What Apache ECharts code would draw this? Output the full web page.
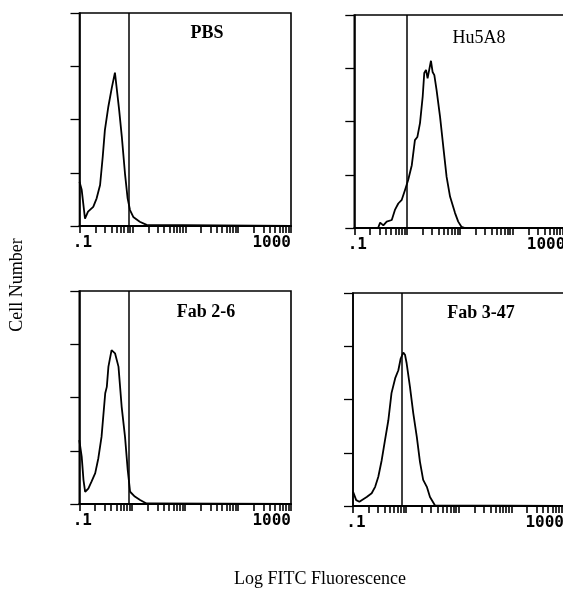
<!DOCTYPE html>
<html>
<head>
<meta charset="utf-8">
<script src="https://cdn.jsdelivr.net/npm/echarts@6/dist/echarts.min.js"></script>
<style>
html,body{margin:0;padding:0;background:#fff;}
#chart{width:563px;height:591px;}
</style>
</head>
<body>
<div id="chart"></div>
<script>
// ---- data ----
const panelTitles = ['PBS', 'Hu5A8', 'Fab 2-6', 'Fab 3-47'];
const xTickLabelValues = [0.1, 1000];
const xTickLabelTexts = ['.1', '1000'];
const xDecades = [0.1, 1, 10, 100];
const xMultipliers = [1, 2, 3, 4, 5, 6, 7, 8, 9];
const yMin = 0, yMax = 4, yInterval = 1;
const gateValues = [0.86, 0.98, 0.87, 0.85];

const pbsX = [0.1, 0.110, 0.127, 0.145, 0.182, 0.211, 0.245, 0.275, 0.302, 0.351, 0.407, 0.468, 0.501, 0.562, 0.631, 0.724, 0.813, 0.902, 1.04, 1.38, 1.86, 1000];
const pbsY = [0.83, 0.68, 0.14, 0.27, 0.36, 0.52, 0.77, 1.30, 1.80, 2.24, 2.59, 2.88, 2.62, 2.18, 1.68, 0.99, 0.52, 0.30, 0.17, 0.08, 0.02, 0];

const hu5a8X = [0.1, 0.282, 0.309, 0.355, 0.411, 0.513, 0.589, 0.682, 0.794, 0.912, 1.05, 1.23, 1.41, 1.57, 1.76, 1.98, 2.12, 2.29, 2.45, 2.63, 2.84, 3.05, 3.29, 3.63, 4.22, 4.86, 5.62, 6.53, 8.13, 9.33, 10.8, 12.6, 1000];
const hu5a8Y = [0, 0, 0.10, 0.05, 0.12, 0.15, 0.34, 0.46, 0.53, 0.71, 0.90, 1.18, 1.65, 1.71, 1.97, 2.47, 2.91, 2.97, 2.81, 2.97, 3.14, 2.93, 2.87, 2.59, 2.09, 1.53, 0.96, 0.59, 0.28, 0.12, 0.02, 0, 0];

const fab26X = [0.1, 0.111, 0.120, 0.129, 0.148, 0.170, 0.200, 0.229, 0.263, 0.309, 0.331, 0.355, 0.407, 0.473, 0.550, 0.631, 0.731, 0.822, 0.912, 1.12, 1.41, 1.86, 1000];
const fab26Y = [1.20, 0.89, 0.45, 0.23, 0.29, 0.42, 0.58, 0.86, 1.26, 2.08, 2.20, 2.58, 2.89, 2.83, 2.58, 1.83, 1.26, 0.64, 0.23, 0.14, 0.075, 0.01, 0];

const fab347X = [0.1, 0.115, 0.132, 0.146, 0.182, 0.226, 0.263, 0.302, 0.350, 0.405, 0.468, 0.537, 0.631, 0.724, 0.802, 0.899, 0.968, 1.04, 1.20, 1.39, 1.62, 1.86, 2.14, 2.51, 2.88, 3.59, 1000];
const fab347Y = [0.27, 0.11, 0.08, 0.11, 0.17, 0.24, 0.36, 0.55, 0.86, 1.24, 1.61, 2.12, 2.40, 2.55, 2.77, 2.88, 2.84, 2.68, 2.24, 1.74, 1.30, 0.83, 0.49, 0.36, 0.17, 0.01, 0];

const seriesX = [pbsX, hu5a8X, fab26X, fab347X];
const seriesY = [pbsY, hu5a8Y, fab26Y, fab347Y];

// ---- layout ----
const grids = [
  {left: 79.5, top: 13, width: 211.5, height: 213},
  {left: 354.3, top: 15, width: 211, height: 213},
  {left: 79.3, top: 291, width: 211.7, height: 213},
  {left: 353, top: 293, width: 211, height: 213}
];
const titlePos = [[207, 33], [479, 38], [206, 312], [481, 313]];
const titleWeight = ['bold', 'normal', 'bold', 'bold'];

const xMinorTicks = [];
xDecades.forEach(d => xMultipliers.forEach(m => xMinorTicks.push(+(d * m).toPrecision(3))));
xMinorTicks.push(1000);

const chart = echarts.init(document.getElementById('chart'), null, {renderer: 'canvas'});

const option = {
  animation: false,
  backgroundColor: '#fff',
  grid: grids.map(g => Object.assign({show: true, borderColor: '#000', borderWidth: 1.6, backgroundColor: 'transparent', containLabel: false, outerBoundsMode: 'none'}, g)),
  xAxis: grids.map((g, i) => ({
    gridIndex: i,
    type: 'log',
    logBase: 10,
    min: 0.1,
    max: 1000,
    axisLine: {show: true, lineStyle: {color: '#000', width: 2.2}},
    axisTick: {show: true, inside: false, length: 7, lineStyle: {color: '#000', width: 1.6}, customValues: xMinorTicks},
    minorTick: {show: false},
    splitLine: {show: false},
    axisLabel: {
      show: true,
      customValues: xTickLabelValues,
      formatter: v => {
        const idx = xTickLabelValues.findIndex(t => Math.abs(t - v) / t < 1e-6);
        const txt = idx >= 0 ? xTickLabelTexts[idx] : '';
        return idx === 0 ? '{a|' + txt + '}' : txt;
      },
      rich: {a: {fontFamily: 'DejaVu Sans Mono', fontWeight: 'bold', fontSize: 16, color: '#000', padding: [0, 0, 0, 6]}},
      fontFamily: 'DejaVu Sans Mono',
      fontWeight: 'bold',
      fontSize: 16,
      color: '#000',
      margin: 9,
      alignMaxLabel: 'right',
      showMinLabel: true,
      showMaxLabel: true
    }
  })),
  yAxis: grids.map((g, i) => ({
    gridIndex: i,
    type: 'value',
    min: yMin,
    max: yMax,
    interval: yInterval,
    axisLine: {show: true, lineStyle: {color: '#000', width: 1.6}},
    axisTick: {show: true, inside: false, length: 9, lineStyle: {color: '#000', width: 1.3}},
    axisLabel: {show: false},
    splitLine: {show: false}
  })),
  series: seriesX.map((xs, i) => ({
    type: 'line',
    xAxisIndex: i,
    yAxisIndex: i,
    data: xs.map((x, j) => [x, seriesY[i][j]]),
    showSymbol: false,
    symbol: 'none',
    lineStyle: {color: '#000', width: 1.8},
    silent: true,
    markLine: {
      silent: true,
      symbol: 'none',
      label: {show: false},
      lineStyle: {color: '#000', width: 1.5, type: 'solid'},
      data: [{xAxis: gateValues[i]}]
    }
  })),
  graphic: panelTitles.map((t, i) => ({
    type: 'text',
    x: titlePos[i][0],
    y: titlePos[i][1],
    style: {
      text: t,
      fill: '#000',
      font: titleWeight[i] + ' 18px "Liberation Serif"',
      textAlign: 'center',
      textVerticalAlign: 'middle'
    }
  })).concat([
    {
      type: 'text',
      x: 17,
      y: 285,
      rotation: Math.PI / 2,
      style: {text: 'Cell Number', fill: '#000', font: '18px "Liberation Serif"', textAlign: 'center', textVerticalAlign: 'middle'}
    },
    {
      type: 'text',
      x: 320,
      y: 579,
      style: {text: 'Log FITC Fluorescence', fill: '#000', font: '18px "Liberation Serif"', textAlign: 'center', textVerticalAlign: 'middle'}
    }
  ])
};
chart.setOption(option);
</script>
</body>
</html>
